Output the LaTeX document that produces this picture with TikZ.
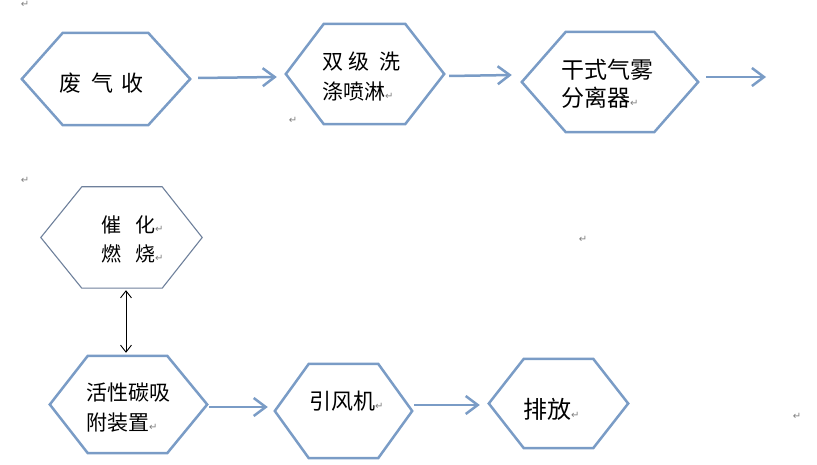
\documentclass[tikz,border=0pt]{standalone}
\usepackage{fontspec}
\newfontfamily\cjk{Noto Sans CJK SC}
\newfontfamily\symf{DejaVu Sans}
\usetikzlibrary{arrows.meta}
\definecolor{hexblue}{RGB}{122,156,198}
\definecolor{hexgray}{RGB}{110,128,155}
\newcommand{\pmk}{{\symf\fontsize{10}{10}\selectfont\color{gray}↵}}
\newcommand{\hexa}[8]{%
  \node[inner sep=0pt, minimum width=#4pt, minimum height=#5pt] (#1) at (#2,#3) {};
  \draw[#8] (#1.west) -- ([xshift=#6pt]#1.north west) -- ([xshift=-#7pt]#1.north east) -- (#1.east) -- ([xshift=-#7pt]#1.south east) -- ([xshift=#6pt]#1.south west) -- cycle;}
\tikzset{
  hexline/.style={draw=hexblue, line width=2.5pt, line join=miter},
  hexthin/.style={draw=hexgray, line width=1.1pt, line join=miter},
  txt/.style={inner sep=0pt, anchor=west, align=left, text=black},
  arr/.style={draw=hexblue, line width=2.5pt, -{Straight Barb[length=12pt,width=18pt]}},
  dbl/.style={draw=black, line width=0.9pt, {Straight Barb[length=7pt,width=11pt]}-{Straight Barb[length=7pt,width=11pt]}},
  pm/.style={inner sep=0pt, text=gray, font=\symf\fontsize{10}{10}\selectfont}
}
\begin{document}
\begin{tikzpicture}[x=1pt,y=-1pt]
\useasboundingbox (0,0) rectangle (817,465);
% hexagons: name, cx, cy, w, h, a, b, style
\hexa{h1}{106}{79}{168}{92}{41}{42}{hexline}
\hexa{h2}{365}{74}{158}{100}{38}{39}{hexline}
\hexa{h3}{610}{82}{176}{100}{44}{44}{hexline}
\hexa{h4}{121.5}{237.5}{161}{101}{41}{40}{hexthin}
\hexa{h5}{128.5}{404.5}{157}{97}{38}{40}{hexline}
\hexa{h6}{343.5}{411}{137}{94}{34}{34}{hexline}
\hexa{h7}{558.5}{403.5}{139}{89}{35}{35}{hexline}
% texts
\node[txt, font=\cjk\fontsize{22}{22}\selectfont] (t1) at (59,83) {废\hspace{10pt}气\hspace{8pt}收};
\node[txt, font=\cjk\fontsize{21}{21}\selectfont] (t2a) at (322,62) {双\hspace{5pt}级\hspace{10pt}洗};
\node[txt, font=\cjk\fontsize{21}{21}\selectfont] (t2b) at (322,92) {涤喷淋\pmk};
\node[txt, font=\cjk\fontsize{23}{23}\selectfont] (t3a) at (561,70) {干式气雾};
\node[txt, font=\cjk\fontsize{23}{23}\selectfont] (t3b) at (561,98) {分离器\pmk};
\node[txt, font=\cjk\fontsize{20}{20}\selectfont] (t4a) at (101,225) {催\hspace{14pt}化\pmk};
\node[txt, font=\cjk\fontsize{20}{20}\selectfont] (t4b) at (101,254) {燃\hspace{14pt}烧\pmk};
\node[txt, font=\cjk\fontsize{21}{21}\selectfont] (t5a) at (86,393) {活性碳吸};
\node[txt, font=\cjk\fontsize{21}{21}\selectfont] (t5b) at (86,423) {附装置\pmk};
\node[txt, font=\cjk\fontsize{22}{22}\selectfont] (t6) at (309,401) {引风机\pmk};
\node[txt, font=\cjk\fontsize{24}{24}\selectfont] (t7) at (523,409) {排放\pmk};
% paragraph marks
\node[pm] (p1) at (25,4) {↵};
\node[pm] (p2) at (25,180) {↵};
\node[pm] (p3) at (293,120) {↵};
\node[pm] (p4) at (583,239) {↵};
\node[pm] (p5) at (797,416) {↵};
% connectors
\coordinate (outend) at (766,77);
\draw[arr] ([xshift=8pt,yshift=1pt]h1.east) -- ([xshift=-9pt,yshift=-3pt]h2.west);
\draw[arr] ([xshift=5pt,yshift=-2pt]h2.east) -- ([xshift=-10pt,yshift=7pt]h3.west);
\draw[arr] ([xshift=8pt,yshift=5pt]h3.east) -- (outend);
\draw[dbl] ([xshift=4.5pt,yshift=-2pt]h4.south) -- ([xshift=-2.5pt,yshift=3pt]h5.north);
\draw[arr] ([xshift=2pt,yshift=-2.5pt]h5.east) -- ([xshift=-7pt,yshift=4pt]h6.west);
\draw[arr] ([xshift=2pt,yshift=6pt]h6.east) -- ([xshift=-9pt,yshift=-1.5pt]h7.west);
\end{tikzpicture}
\end{document}
